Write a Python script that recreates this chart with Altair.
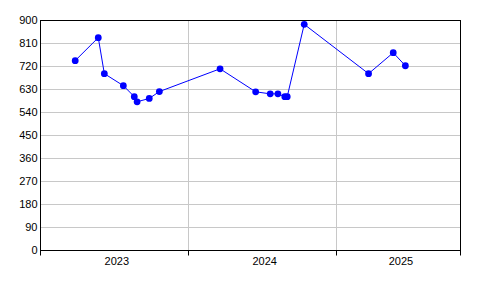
import altair as alt
import pandas as pd

dates = ["2023-03-29", "2023-05-25", "2023-06-09", "2023-07-26", "2023-08-22",
         "2023-08-29", "2023-09-28", "2023-10-23", "2024-03-21", "2024-06-17",
         "2024-07-23", "2024-08-11", "2024-08-28", "2024-09-03", "2024-10-15",
         "2025-03-23", "2025-05-23", "2025-06-22"]
values = [741, 831, 690, 643, 600, 580, 593, 620, 709, 619,
          611, 611, 600, 600, 883, 690, 772, 721]

year_labels = ["2023", "2024", "2025"]
year_starts = ["2023-01-01", "2024-01-01", "2025-01-01"]
domain_end = "2025-11-04"
y_ticks = list(range(0, 901, 90))

W, H = 420, 230

df = pd.DataFrame({"date": dates, "value": values})

def ms(s):
    return int(pd.Timestamp(s, tz="UTC").value // 10**6)

bounds = [ms(s) for s in year_starts] + [ms(domain_end)]
label_pos = [(bounds[i] + bounds[i + 1]) // 2 for i in range(len(year_labels))]
lab_df = pd.DataFrame({"pos": label_pos, "label": year_labels})

FONT = "Liberation Sans"
xscale = alt.Scale(type="utc", domain=[bounds[0], bounds[-1]])

x_axis = alt.Axis(values=bounds, labels=False, tickSize=5, tickColor="black",
                  domainColor="black", grid=True, gridColor="#c8c8c8",
                  title=None)
y_axis = alt.Axis(values=y_ticks, ticks=False, labelPadding=3, domainColor="black",
                  grid=True, gridColor="#c8c8c8", title=None,
                  labelFont=FONT, labelFontSize=11, labelColor="black")

base = alt.Chart(df).encode(
    x=alt.X("date:T", scale=xscale, axis=x_axis),
    y=alt.Y("value:Q", scale=alt.Scale(domain=[0, 900], nice=False), axis=y_axis),
)

line = base.mark_line(color="#0000ff", strokeWidth=1)
pts = base.mark_circle(color="#0000ff", size=46, opacity=1)

labels = alt.Chart(lab_df).mark_text(
    font=FONT, fontSize=11, color="black", baseline="middle", align="center", dx=3
).encode(
    x=alt.X("pos:T", scale=xscale),
    y=alt.value(H + 12),
    text="label:N",
)

frame = alt.Chart(lab_df).mark_rect(fill=None, stroke="black", strokeWidth=1).encode(
    x=alt.value(0.5), x2=alt.value(W + 0.5), y=alt.value(0.5), y2=alt.value(H + 0.5)
)

chart = alt.layer(line, pts, labels, frame).properties(
    width=W, height=H,
    autosize=alt.AutoSizeParams(type="none"),
    padding={"left": 40, "top": 20, "right": 36, "bottom": 46},
    background="white",
).configure_view(stroke="transparent")

chart.save("out.html", embed_options={"renderer": "svg", "actions": False})
